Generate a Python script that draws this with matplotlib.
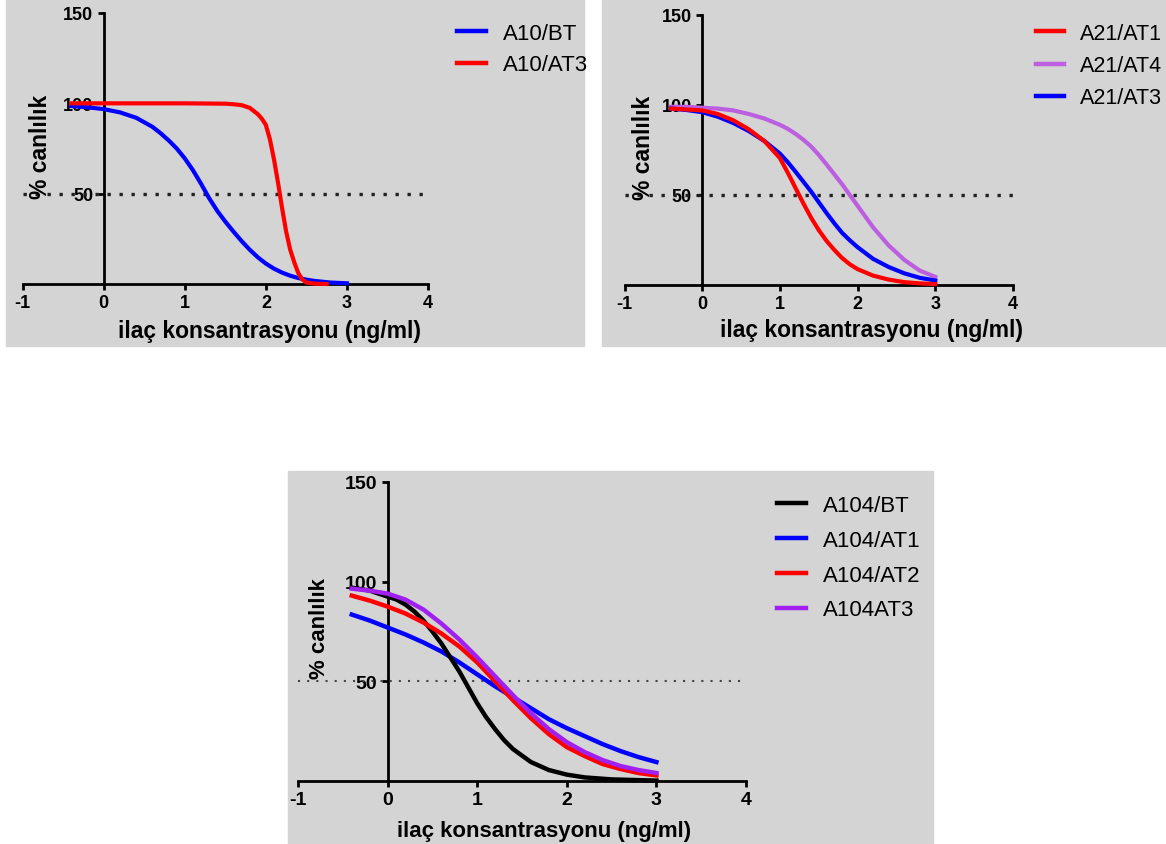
import numpy as np
import matplotlib
matplotlib.use("Agg")
import matplotlib.pyplot as plt
from matplotlib.patches import Rectangle
from matplotlib.lines import Line2D

plt.rcParams['font.family'] = ['Liberation Sans', 'DejaVu Sans']
plt.rcParams['axes.unicode_minus'] = False
plt.rcParams['lines.solid_joinstyle'] = 'round'

W, H = 1166, 845

# ---- datos (log concentracion vs % canlilik) ----
a10_bt_x = [-0.4, -0.2, 0.0, 0.2, 0.4, 0.6, 0.7, 0.8, 0.9, 1.0, 1.1, 1.2, 1.3, 1.4, 1.5,
            1.6, 1.7, 1.8, 1.9, 2.0, 2.1, 2.2, 2.3, 2.4, 2.5, 2.6, 2.8, 3.0]
a10_bt_y = [98.5, 97.8, 96.8, 95.0, 92.0, 87.0, 83.5, 79.5, 75.0, 69.5, 63.0, 55.5, 47.5,
            40.5, 34.5, 29.0, 23.8, 19.0, 14.8, 11.3, 8.5, 6.3, 4.6, 3.3, 2.4, 1.7, 0.8, 0.4]
a10_at3_x = [-0.4, 0.0, 0.5, 1.0, 1.5, 1.6, 1.7, 1.8, 1.9, 1.95, 2.0, 2.05, 2.1, 2.15,
             2.2, 2.25, 2.3, 2.35, 2.4, 2.45, 2.5, 2.6, 2.75]
a10_at3_y = [100.0, 100.0, 100.0, 100.0, 99.8, 99.5, 99.0, 97.5, 94.0, 91.5, 88.0, 80.0,
             69.0, 56.0, 42.0, 29.0, 19.0, 12.0, 6.0, 2.5, 0.8, 0.2, 0.0]

a21_x = [-0.4, -0.2, 0.0, 0.2, 0.4, 0.6, 0.8, 1.0, 1.1, 1.2, 1.3, 1.4, 1.5, 1.6, 1.7, 1.8,
         1.9, 2.0, 2.2, 2.4, 2.6, 2.8, 3.0]
a21_at1_y = [98.0, 97.5, 97.0, 95.0, 91.5, 86.5, 80.0, 70.5, 62.5, 54.0, 45.5, 37.5, 30.5,
             24.5, 19.5, 15.0, 11.5, 8.8, 5.2, 3.0, 1.6, 0.9, 0.5]
a21_at4_y = [99.0, 99.0, 98.5, 98.0, 97.0, 95.0, 92.5, 89.0, 86.8, 84.0, 80.8, 77.0, 72.3,
             67.0, 61.5, 56.0, 50.0, 44.0, 32.0, 22.0, 14.0, 8.0, 4.5]
a21_at3_y = [98.0, 97.2, 96.0, 93.5, 90.0, 85.5, 80.0, 73.0, 68.3, 63.0, 57.5, 52.0, 46.0,
             40.0, 34.3, 29.0, 24.8, 21.0, 14.5, 10.0, 6.5, 4.0, 2.5]

a104_x = [-0.4, -0.2, 0.0, 0.2, 0.4, 0.6, 0.8, 1.0, 1.2, 1.4, 1.6, 1.8, 2.0, 2.2, 2.4,
          2.6, 2.8, 3.0]
a104_bt_x = [-0.4, -0.2, 0.0, 0.1, 0.2, 0.3, 0.4, 0.5, 0.6, 0.7, 0.8, 0.9, 1.0, 1.1, 1.2,
             1.3, 1.4, 1.6, 1.8, 2.0, 2.2, 2.5, 3.0]
a104_bt_y = [97.0, 95.5, 92.5, 91.0, 88.5, 85.0, 80.5, 75.0, 69.0, 62.0, 55.0, 47.0, 39.0,
             32.0, 26.0, 20.5, 16.0, 9.5, 5.5, 3.2, 1.8, 0.8, 0.2]
a104_at1_y = [83.5, 80.5, 77.0, 73.5, 69.5, 65.0, 59.5, 53.5, 47.5, 42.0, 36.5, 31.0, 26.5,
              22.5, 18.5, 15.0, 12.0, 9.5]
a104_at2_y = [93.0, 90.5, 87.5, 84.0, 79.5, 74.0, 67.5, 59.5, 50.0, 40.5, 31.5, 23.5, 17.0,
              12.5, 8.5, 6.0, 4.0, 2.8]
a104_at3_y = [96.5, 95.5, 94.0, 91.0, 86.0, 79.0, 71.0, 62.0, 52.5, 43.0, 34.0, 26.0, 19.5,
              14.5, 10.5, 7.5, 5.5, 4.0]

x_ticks = [-1, 0, 1, 2, 3, 4]
y_ticks = [50, 100, 150]
ref_level = 50
xlabel = "ilaç konsantrasyonu (ng/ml)"
ylabel = "% canlılık"

GRAY = "#d4d4d4"


def fig_rect(x0, y0, x1, y1):
    # pixel box (top-left origin) -> figure fraction [l, b, w, h]
    return [x0 / W, 1 - y1 / H, (x1 - x0) / W, (y1 - y0) / H]


def setup_axes(fig, box, tick_fs, lab_fs, xlab_pos, ylab_pos, dots):
    ax = fig.add_axes(fig_rect(*box))
    ax.set_facecolor("none")
    ax.set_xlim(-1, 4)
    ax.set_ylim(0, 150)
    for s in ["top", "right"]:
        ax.spines[s].set_visible(False)
    ax.spines["left"].set_position(("data", 0))
    ax.spines["bottom"].set_position(("data", 0))
    for s in ["left", "bottom"]:
        ax.spines[s].set_linewidth(2.0)
        ax.spines[s].set_capstyle("projecting")
    ax.set_xticks(x_ticks)
    ax.set_yticks(y_ticks)
    ax.tick_params(width=2.0, length=4.5, pad=3, labelsize=tick_fs)
    for t in ax.get_xticklabels() + ax.get_yticklabels():
        t.set_fontweight("bold")
    ax.text(xlab_pos[0], xlab_pos[1], xlabel, transform=ax.transAxes, ha="center",
            va="center", fontsize=lab_fs, fontweight="bold")
    ax.text(ylab_pos[0], ylab_pos[1], ylabel, transform=ax.transAxes, ha="center",
            va="center", rotation=90, fontsize=lab_fs, fontweight="bold")
    lw, dash, col = dots
    ax.axhline(ref_level, color=col, lw=lw, dashes=dash, zorder=2.6)
    return ax


def add_legend(ax, fig, names, colors, anchor, fs, spacing):
    handles = [Line2D([], [], color=c, lw=3.2) for c in colors]
    ax.legend(handles, names, loc="upper left", bbox_to_anchor=(anchor[0] / W, 1 - anchor[1] / H),
              bbox_transform=fig.transFigure, frameon=False, fontsize=fs, handlelength=1.3,
              handletextpad=0.75, labelspacing=spacing, borderaxespad=0, borderpad=0)


def main():
    fig = plt.figure(figsize=(W / 100, H / 100), dpi=100)
    fig.patch.set_facecolor("white")
    for x0, y0, x1, y1 in [(6, 0, 584, 347), (602, 0, 1166, 347), (288, 472, 933, 845)]:
        fig.patches.append(Rectangle((x0 / W, 1 - y1 / H), (x1 - x0) / W, (y1 - y0) / H,
                                     transform=fig.transFigure, color=GRAY, zorder=-5))

    top_dots = (2.4, (1, 2.6), "#222222")

    # panel A10
    ax1 = setup_axes(fig, (22.7, 14, 428, 285), 13, 16.5, (0.61, -0.17), (0.045, 0.51), top_dots)
    ax1.plot(a10_bt_x, a10_bt_y, color="#0000ff", lw=3, zorder=3, clip_on=False)
    ax1.plot(a10_at3_x, a10_at3_y, color="#ff0000", lw=3, zorder=3, clip_on=False)
    add_legend(ax1, fig, ["A10/BT", "A10/AT3"], ["#0000ff", "#ff0000"], (457, 24), 16, 0.47)

    # panel A21
    ax2 = setup_axes(fig, (624.5, 16, 1013, 286), 13, 16.5, (0.636, -0.165), (0.048, 0.51), top_dots)
    ax2.plot(a21_x, a21_at4_y, color="#bb5ee0", lw=3, zorder=3, clip_on=False)
    ax2.plot(a21_x, a21_at3_y, color="#0000ff", lw=3, zorder=3, clip_on=False)
    ax2.plot(a21_x, a21_at1_y, color="#ff0000", lw=3, zorder=3, clip_on=False)
    add_legend(ax2, fig, ["A21/AT1", "A21/AT4", "A21/AT3"], ["#ff0000", "#bb5ee0", "#0000ff"],
               (1036, 24), 15.5, 0.52)

    # panel A104
    ax3 = setup_axes(fig, (298, 483, 746, 782), 14, 16, (0.55, -0.165), (0.047, 0.514),
                     (1.5, (1, 3.4), "#444444"))
    ax3.plot(a104_x, a104_at1_y, color="#0000ff", lw=3.2, zorder=3, clip_on=False)
    ax3.plot(a104_bt_x, a104_bt_y, color="#000000", lw=3.2, zorder=3, clip_on=False)
    ax3.plot(a104_x, a104_at2_y, color="#ff0000", lw=3.2, zorder=3, clip_on=False)
    ax3.plot(a104_x, a104_at3_y, color="#a020f0", lw=3.2, zorder=3, clip_on=False)
    add_legend(ax3, fig, ["A104/BT", "A104/AT1", "A104/AT2", "A104AT3"],
               ["#000000", "#0000ff", "#ff0000", "#a020f0"], (777, 496), 16, 0.62)

    fig.savefig("out.png", dpi=100, facecolor="white")
    plt.close(fig)


if __name__ == "__main__":
    main()
